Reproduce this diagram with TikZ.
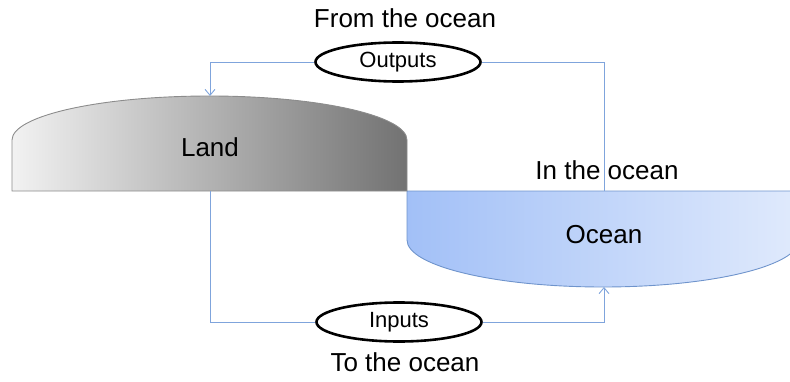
\documentclass[tikz,border=0pt]{standalone}
\usepackage{fontspec}
\setmainfont{Liberation Sans}
\usepackage{tikz}
\usetikzlibrary{positioning, shapes.geometric, arrows.meta}
\definecolor{landlight}{HTML}{F2F2F2}
\definecolor{landdark}{HTML}{727272}
\definecolor{landline}{HTML}{8C8C8C}
\definecolor{oceanleft}{HTML}{A2C0F7}
\definecolor{oceanright}{HTML}{E0EAFC}
\definecolor{oceanline}{HTML}{6F94CC}
\definecolor{flowline}{HTML}{7FA4DC}

\begin{document}
\begin{tikzpicture}[x=1pt, y=1pt]
				
				\tikzset{big label/.style={
						font=\fontsize{26}{30}\selectfont,
						inner sep=0pt
					},
					flux/.style={
						draw, ellipse,
						line width=2.6pt,
						fill=white,
						minimum width=#1,
						minimum height=39pt,
						inner sep=0pt,
						font=\fontsize{22}{25}\selectfont
					},
					flux/.default=165pt,
					flow/.style={
						draw=flowline,
						line width=0.9pt
					},
					flow tip/.style={
						-{Straight Barb[length=6pt, width=10pt]}
					}
				}
				
				\clip (0,0) rectangle (790,381);
				
				\path[draw=oceanline, line width=0.9pt, left color=oceanleft, right color=oceanright]
					(407,190) -- (407,141) arc[start angle=180, end angle=360, x radius=196, y radius=47] -- (799,190) -- cycle;
				\path[draw=landline, line width=0.9pt, left color=landlight, right color=landdark]
					(12,190) -- (12,241) arc[start angle=180, end angle=0, x radius=197.5, y radius=44] -- (407,190) -- cycle;
				
				\coordinate (land top) at (210,285);
				\coordinate (land bottom) at (210,190);
				\coordinate (ocean top) at (604,190);
				\coordinate (ocean bottom) at (604,94);
				
				\node[big label] (land) at (210,234) {Land};
				\node[big label] (ocean) at (604,146) {Ocean};
				\node[big label] (in ocean) at (607,211) {In the ocean};
				\node[big label] (from ocean) at (405,363) {From the ocean};
				\node[big label] (to ocean) at (405,19) {To the ocean};
				
				\node[flux] (outputs) at (398,319) {Outputs};
				\node[flux] (inputs) at (399,59) {Inputs};
				
				\draw[flow, flow tip] (outputs.west) -| (land top);
				\draw[flow] (outputs.east) -| (ocean top);
				\draw[flow] (land bottom) |- (inputs.west);
				\draw[flow, flow tip] (inputs.east) -| (ocean bottom);
				
\end{tikzpicture}
\end{document}
